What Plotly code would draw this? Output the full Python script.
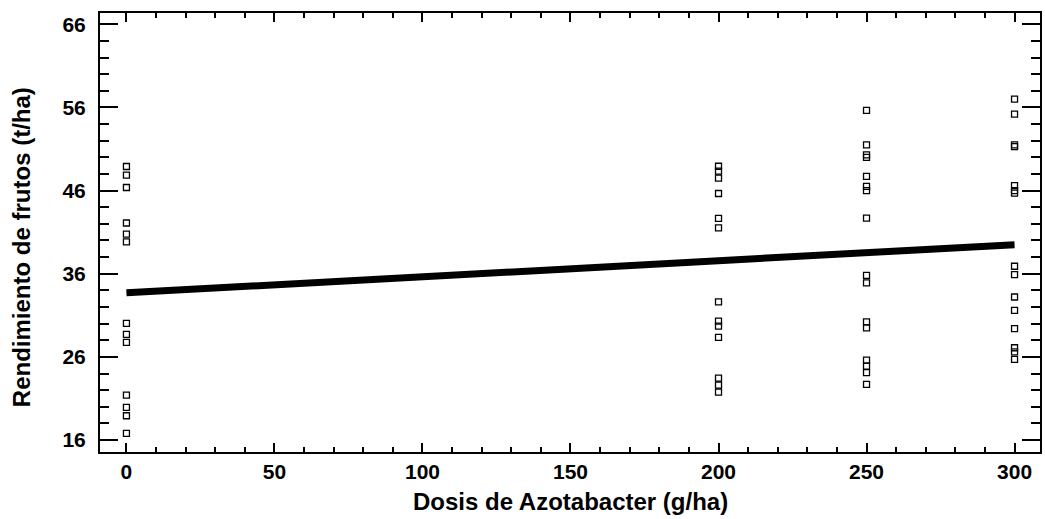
import plotly.graph_objects as go

# Data
dose_0 = [48.9, 47.85, 46.37, 42.1, 40.76, 39.83, 30.03, 28.7, 27.74, 21.4, 19.93, 18.92, 16.8]
dose_200 = [48.93, 48.33, 47.49, 45.65, 42.65, 41.52, 32.62, 30.3, 29.7, 28.34, 23.45, 22.6, 21.77]
dose_250 = [55.66, 51.5, 50.3, 50.0, 47.7, 46.5, 46.0, 42.7, 35.8, 34.9, 30.2, 29.5, 25.6, 24.9, 24.1, 22.7]
dose_300 = [57.0, 55.2, 51.5, 51.3, 46.6, 46.0, 45.7, 36.9, 35.9, 33.2, 31.6, 29.4, 27.1, 26.6, 25.7]

fit_x = [0, 300]
fit_y = [33.7, 39.5]

x_ticks = [0, 50, 100, 150, 200, 250, 300]
y_ticks = [16, 26, 36, 46, 56, 66]

xs, ys = [], []
for d, vals in [(0, dose_0), (200, dose_200), (250, dose_250), (300, dose_300)]:
    xs += [d] * len(vals)
    ys += vals

font_family = "Liberation Sans, Arial, sans-serif"

fig = go.Figure()
fig.add_trace(go.Scatter(
    x=fit_x, y=fit_y, mode="lines",
    line=dict(color="black", width=7),
    showlegend=False, hoverinfo="skip"))
fig.add_trace(go.Scatter(
    x=xs, y=ys, mode="markers",
    marker=dict(symbol="square-open", size=6, color="black", line=dict(width=1.3, color="black")),
    showlegend=False))

fig.update_layout(
    width=1045, height=519,
    margin=dict(l=100, r=3, t=13, b=67),
    paper_bgcolor="white", plot_bgcolor="white",
    font=dict(family=font_family, color="black"),
    xaxis=dict(
        range=[-8.93, 308.6],
        tickvals=x_ticks,
        ticks="inside", ticklen=9, tickwidth=2, tickcolor="black",
        minor=dict(ticks="inside", ticklen=5, tickwidth=1.5, tickcolor="black", dtick=10, tick0=0),
        showline=True, linecolor="black", linewidth=2, mirror="ticks",
        showgrid=False, zeroline=False,
        tickfont=dict(size=21, family=font_family, color="black", weight="bold"),
        ticklabelstandoff=0,
    ),
    yaxis=dict(
        range=[14.56, 67.36],
        tickvals=y_ticks,
        ticks="inside", ticklen=18, tickwidth=2, tickcolor="black",
        minor=dict(ticks="inside", ticklen=9, tickwidth=1.5, tickcolor="black", dtick=2, tick0=16),
        showline=True, linecolor="black", linewidth=2, mirror="ticks",
        showgrid=False, zeroline=False,
        tickfont=dict(size=21, family=font_family, color="black", weight="bold"),
        ticklabelstandoff=8,
    ),
    annotations=[
        dict(text="<b>Dosis de Azotabacter (g/ha)</b>", xref="paper", yref="paper",
             x=0.5, y=-0.112, xanchor="center", yanchor="middle", showarrow=False,
             font=dict(size=24, family=font_family, color="black")),
        dict(text="<b>Rendimiento de frutos (t/ha)</b>", xref="paper", yref="paper",
             x=-0.0828, y=0.467, xanchor="center", yanchor="middle", showarrow=False,
             textangle=-90,
             font=dict(size=24, family=font_family, color="black")),
    ],
)

fig.write_html("out.html")
